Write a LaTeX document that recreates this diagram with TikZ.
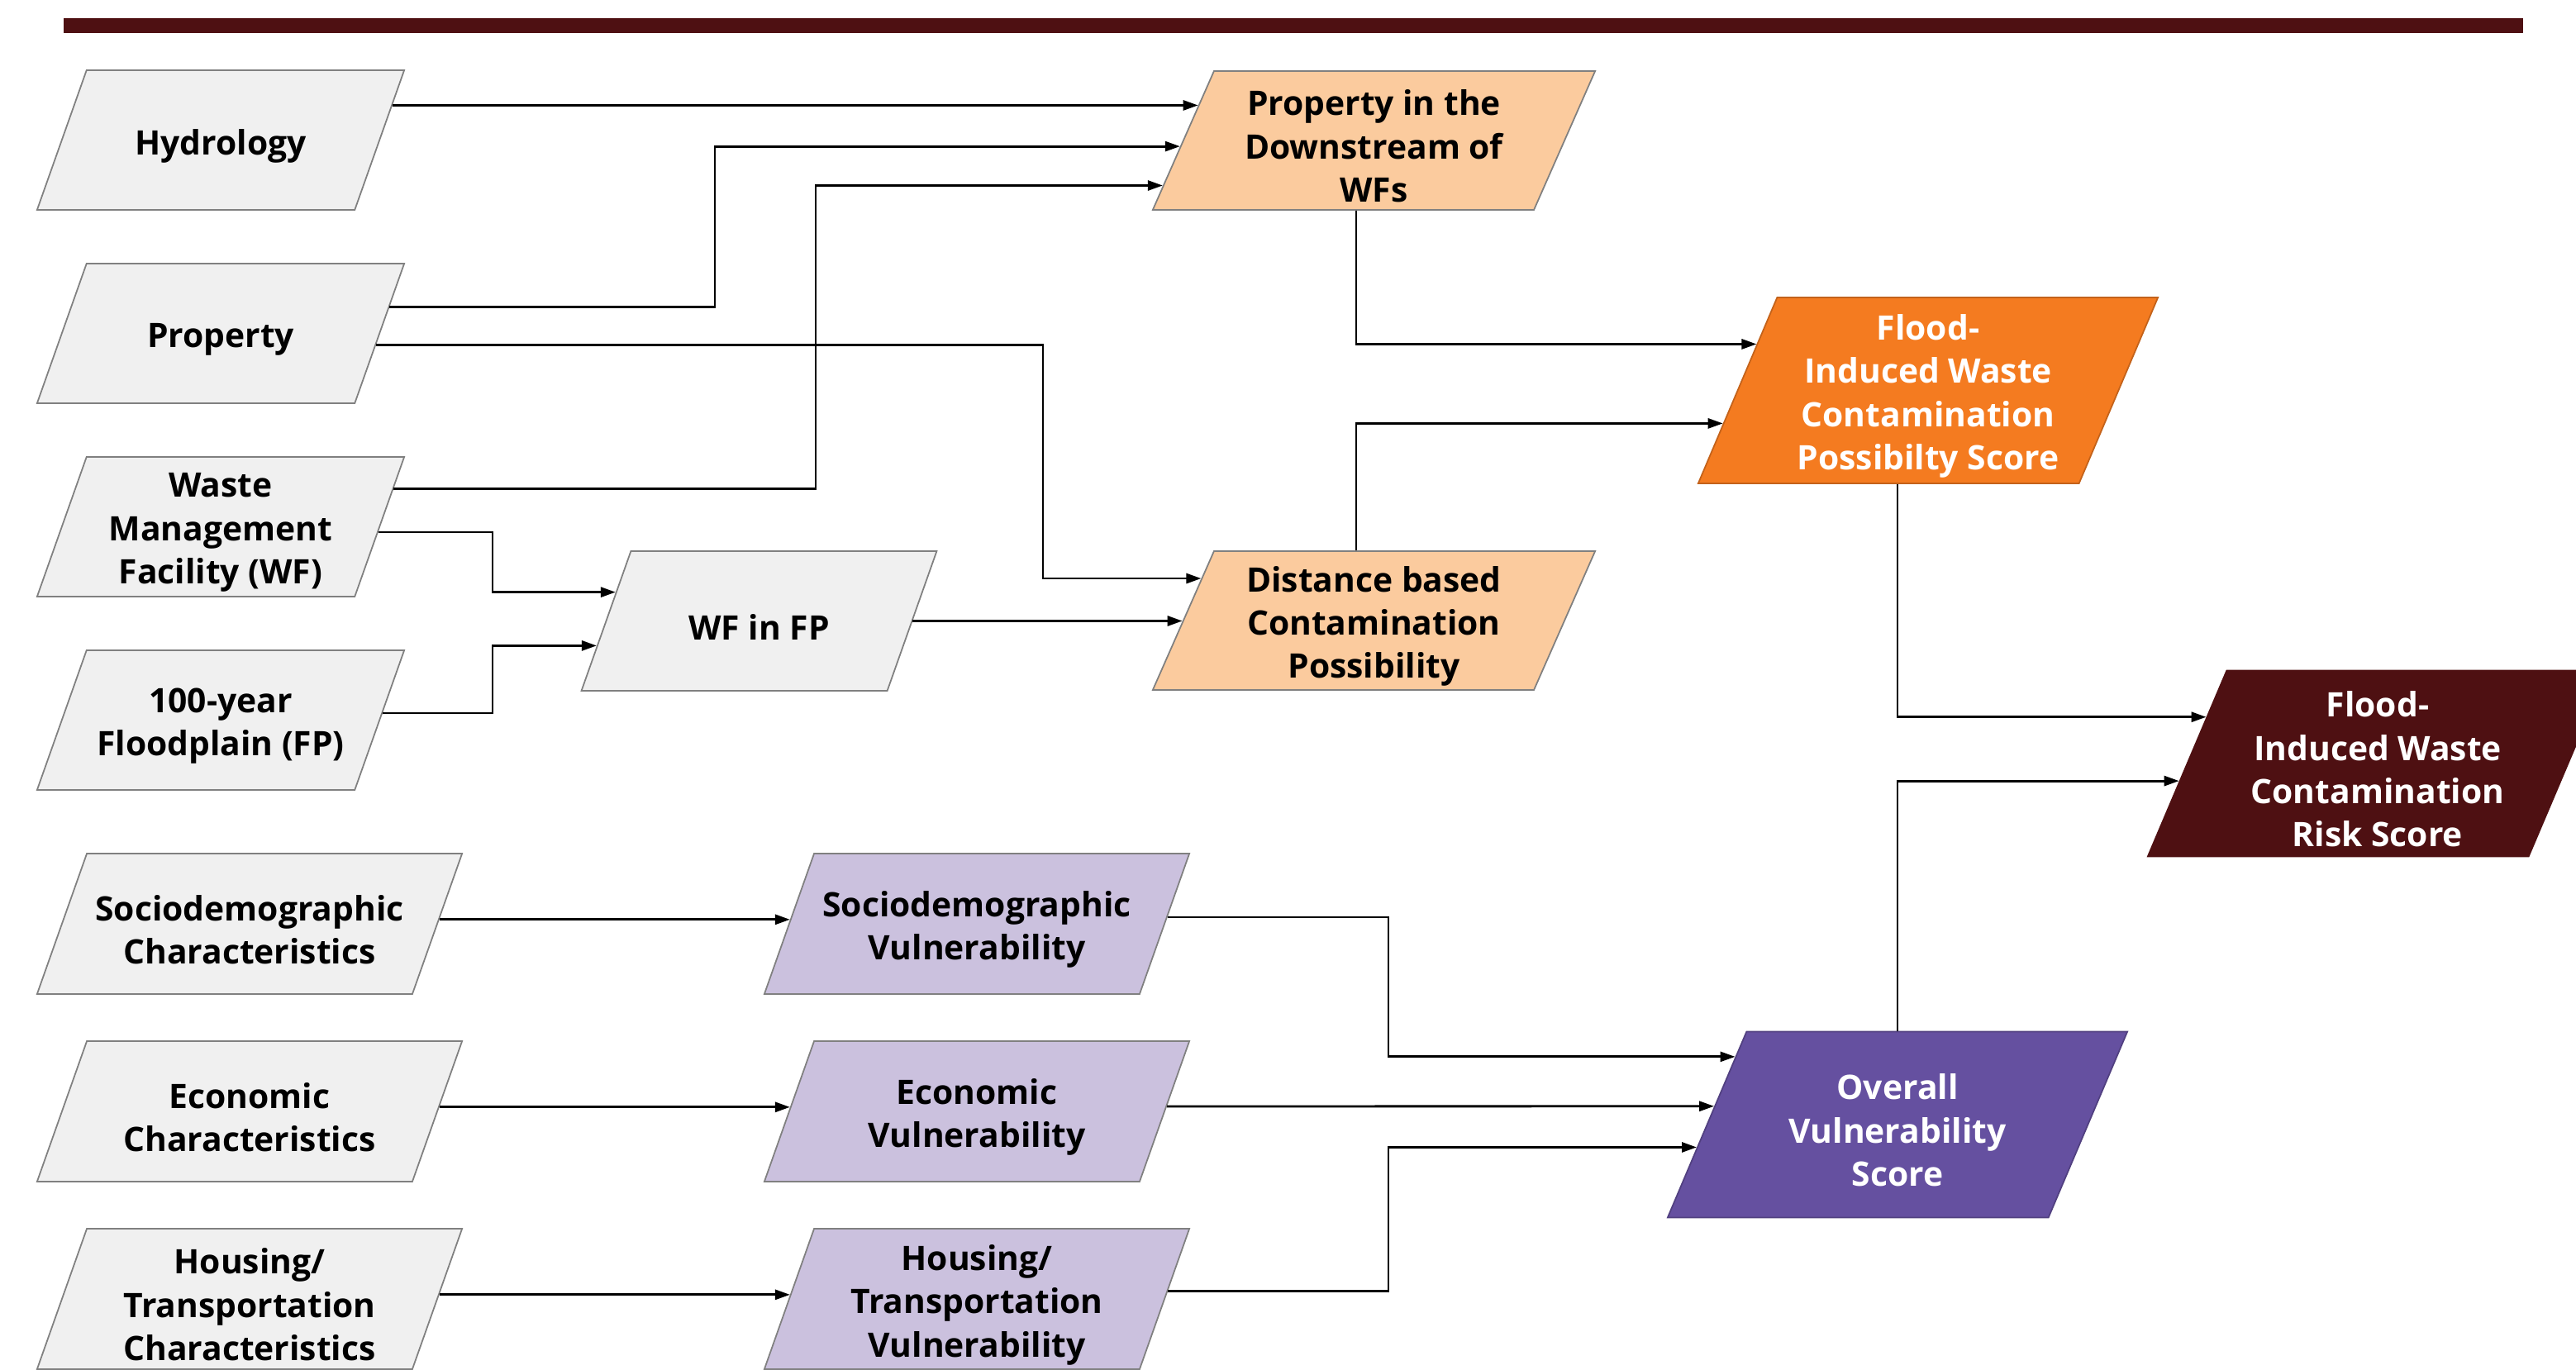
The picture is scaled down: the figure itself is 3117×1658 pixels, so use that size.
\documentclass[tikz,border=0pt]{standalone}
\usepackage{fontspec}
\setmainfont{Open Sans}
\usetikzlibrary{shapes.geometric,arrows.meta,calc}

\definecolor{boxgray}{HTML}{F0F0F0}
\definecolor{edgegray}{HTML}{808080}
\definecolor{peach}{HTML}{FBCB9E}
\definecolor{floodorange}{HTML}{F47B20}
\definecolor{riskmaroon}{HTML}{4E1012}
\definecolor{lilac}{HTML}{CBC1DE}
\definecolor{vulnpurple}{HTML}{6550A0}

\tikzset{every picture/.style={line width=0.8pt}}
\tikzset{
  databox/.style 2 args={trapezium, trapezium stretches body=true, draw=edgegray, line width=0.5pt,
    inner sep=0pt, font=\bfseries\fontsize{11.6}{14.9}\selectfont,
    execute at begin node={\begin{minipage}[c][#1][c]{#2}\centering\vspace*{0.14cm}},
    execute at end node={\end{minipage}}},
  flatbox/.style={trapezium left angle=70.5, trapezium right angle=109.5},
  inbox/.style={databox={1.69cm}{3.1cm}, flatbox, fill=boxgray, minimum width=4.44cm},
  charbox/.style={databox={1.70cm}{3.9cm}, flatbox, fill=boxgray, minimum width=5.14cm},
  vulnbox/.style={databox={1.70cm}{3.9cm}, flatbox, fill=lilac, minimum width=5.14cm},
  peachbox/.style={databox={1.68cm}{3.7cm}, fill=peach, trapezium left angle=66.2,
    trapezium right angle=113.8, minimum width=5.35cm},
  scorebox/.style={databox={2.25cm}{3.5cm}, trapezium left angle=67, trapezium right angle=113,
    text=white, minimum width=5.56cm},
  arr/.style={-{Triangle[length=0.18cm,width=0.12cm]}}
}

\begin{document}
\begin{tikzpicture}[x=0.01cm,y=-0.01cm]
\useasboundingbox (0,0) rectangle (3117,1658);

% top rule
\fill[riskmaroon] (77,22) rectangle (3053,40);

% input data
\node[inbox] (hyd) at (267,169.5) {Hydrology};
\node[inbox] (prop) at (267,403.5) {Property};
\node[inbox] (wf) at (267,637.5) {Waste\\Management\\Facility (WF)};
\node[inbox] (fp) at (267,871.5) {100-year\\Floodplain (FP)};
\node[inbox, minimum width=4.25cm] (wffp) at (918.5,751.5) {WF in FP};

\node[charbox] (soc) at (302,1118) {Sociodemographic\\Characteristics};
\node[charbox] (eco) at (302,1345) {Economic\\Characteristics};
\node[charbox] (hou) at (302,1572) {Housing/\\Transportation\\Characteristics};

% intermediate layers
\node[peachbox] (pd) at (1662.5,170) {Property in the\\Downstream of\\WFs};
\node[peachbox] (dist) at (1662.5,751) {Distance based\\Contamination\\Possibility};

\node[vulnbox] (socv) at (1182,1118) {Sociodemographic\\Vulnerability};
\node[vulnbox] (ecov) at (1182,1345) {Economic\\Vulnerability};
\node[vulnbox] (houv) at (1182,1572) {Housing/\\Transportation\\Vulnerability};

% scores
\node[scorebox, fill=floodorange, draw=floodorange!80!black] (poss) at (2333,472.5) {Flood-\\Induced Waste\\Contamination\\Possibilty Score};
\node[scorebox, fill=vulnpurple, draw=vulnpurple!80!black] (ovr) at (2296,1361) {Overall\\Vulnerability\\Score};
\node[scorebox, fill=riskmaroon, draw=riskmaroon] (risk) at (2877,924) {Flood-\\Induced Waste\\Contamination\\Risk Score};

% points on the slanted sides
\coordinate (hyd-out) at ($(hyd.bottom right corner)!0.746!(hyd.top right corner)$);
\coordinate (prop-out1) at ($(prop.bottom right corner)!0.686!(prop.top right corner)$);
\coordinate (prop-out2) at ($(prop.bottom right corner)!0.42!(prop.top right corner)$);
\coordinate (wf-out1) at ($(wf.bottom right corner)!0.769!(wf.top right corner)$);
\coordinate (wf-out2) at ($(wf.bottom right corner)!0.462!(wf.top right corner)$);
\coordinate (fp-out) at ($(fp.bottom right corner)!0.55!(fp.top right corner)$);
\coordinate (pd-in1) at ($(pd.bottom left corner)!0.75!(pd.top left corner)$);
\coordinate (pd-in2) at ($(pd.bottom left corner)!0.458!(pd.top left corner)$);
\coordinate (pd-in3) at ($(pd.bottom left corner)!0.179!(pd.top left corner)$);
\coordinate (dist-in1) at ($(dist.bottom left corner)!0.80!(dist.top left corner)$);
\coordinate (dist-in2) at ($(dist.bottom left corner)!0.497!(dist.top left corner)$);
\coordinate (wffp-in1) at ($(wffp.bottom left corner)!0.704!(wffp.top left corner)$);
\coordinate (wffp-in2) at ($(wffp.bottom left corner)!0.325!(wffp.top left corner)$);
\coordinate (poss-in1) at ($(poss.bottom left corner)!0.747!(poss.top left corner)$);
\coordinate (poss-in2) at ($(poss.bottom left corner)!0.324!(poss.top left corner)$);
\coordinate (risk-in1) at ($(risk.bottom left corner)!0.748!(risk.top left corner)$);
\coordinate (risk-in2) at ($(risk.bottom left corner)!0.407!(risk.top left corner)$);
\coordinate (ovr-in1) at ($(ovr.bottom left corner)!0.862!(ovr.top left corner)$);
\coordinate (ovr-in2) at ($(ovr.bottom left corner)!0.598!(ovr.top left corner)$);
\coordinate (ovr-in3) at ($(ovr.bottom left corner)!0.379!(ovr.top left corner)$);

% bend columns
\coordinate (j1) at (865,0);
\coordinate (j2) at (987,0);
\coordinate (j3) at (1262,0);
\coordinate (j4) at (596,0);
\coordinate (j5) at (1680,0);
\coordinate (j6) at (1641,0);
\coordinate (j7) at (2296,0);

% possibility branch
\draw[arr] (hyd-out) -- (hyd-out -| pd-in1);
\draw[arr] (prop-out1) -| (j1 |- pd-in2) -- (pd-in2);
\draw[arr] (wf-out1) -| (j2 |- pd-in3) -- (pd-in3);
\draw[arr] (prop-out2) -| (j3 |- dist-in1) -- (dist-in1);
\draw[arr] (wf-out2) -| (j4 |- wffp-in1) -- (wffp-in1);
\draw[arr] (fp-out) -| (j4 |- wffp-in2) -- (wffp-in2);
\draw[arr] (wffp.east) -- (wffp.east -| dist-in2);
\draw[arr] (j6 |- pd.bottom side) |- (poss-in1);
\draw[arr] (j6 |- dist.top side) |- (poss-in2);

% vulnerability branch
\foreach \a/\b in {soc/socv, eco/ecov, hou/houv}{
  \draw[arr] ($(\a.bottom right corner)!0.53!(\a.top right corner)$)
    -- ($(\b.bottom left corner)!0.53!(\b.top left corner)$);
}
\draw[arr] ($(socv.bottom right corner)!0.547!(socv.top right corner)$) -| (j5 |- ovr-in1) -- (ovr-in1);
\draw[arr] ($(ecov.bottom right corner)!0.535!(ecov.top right corner)$) -- (ovr-in2);
\draw[arr] ($(houv.bottom right corner)!0.553!(houv.top right corner)$) -| (j5 |- ovr-in3) -- (ovr-in3);

% risk
\draw[arr] (j7 |- poss.bottom side) |- (risk-in1);
\draw[arr] (j7 |- ovr.top side) |- (risk-in2);

\end{tikzpicture}
\end{document}
